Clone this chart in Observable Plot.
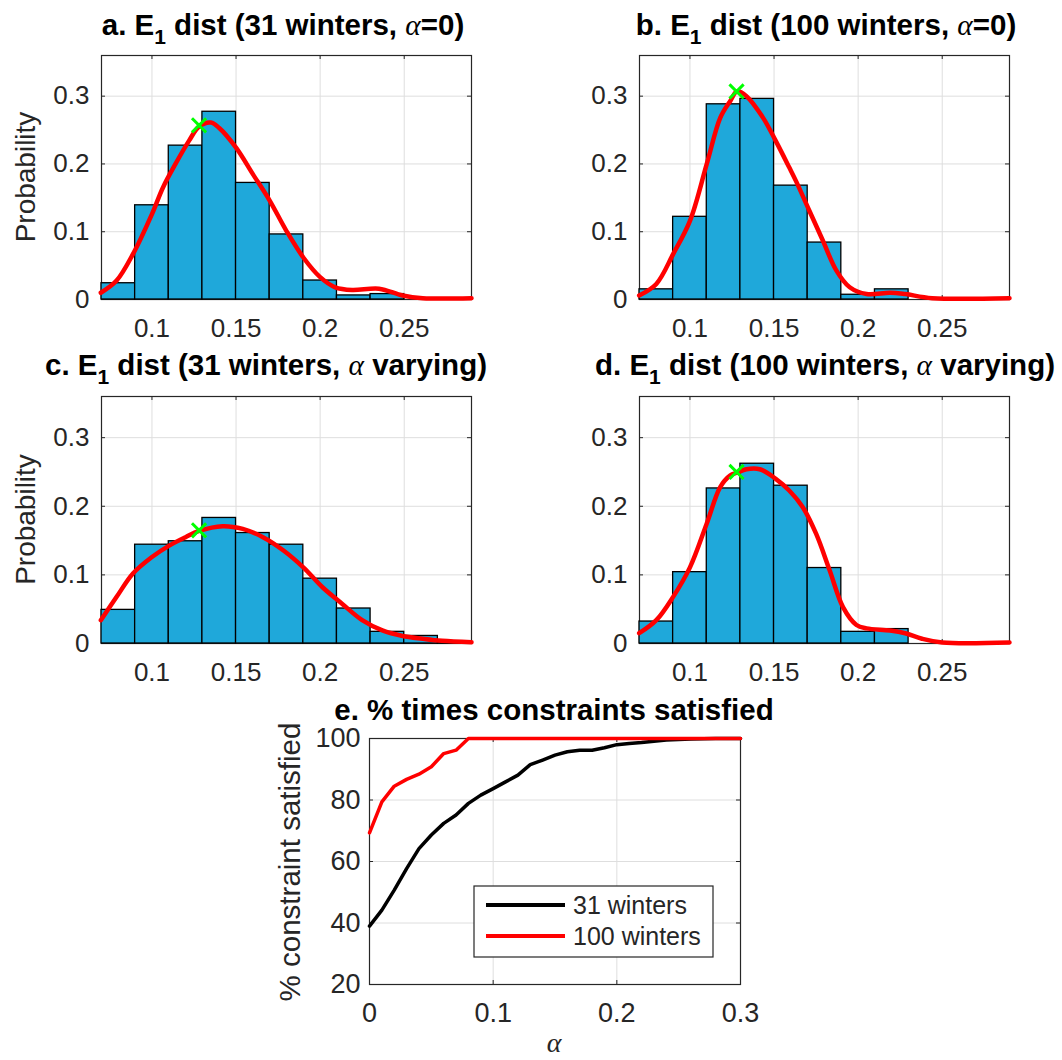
<!DOCTYPE html>
<html>
<head>
<meta charset="utf-8">
<script src="https://cdn.jsdelivr.net/npm/d3@7"></script>
<script src="https://cdn.jsdelivr.net/npm/@observablehq/plot@0.6"></script>
<style>
  body { margin: 0; background: #fff; }
  #root { position: relative; width: 1062px; height: 1060px; background: #fff; overflow: hidden; }
  .panel { position: absolute; }
  #overlay { position: absolute; left: 0; top: 0; pointer-events: none; }
</style>
</head>
<body>
<div id="root"></div>
<script>
// ---------------- DATA ----------------
const binEdges = [0.07, 0.09, 0.11, 0.13, 0.15, 0.17, 0.19, 0.21, 0.23, 0.25, 0.27, 0.29];

const probA = [0.024, 0.139, 0.227, 0.277, 0.172, 0.096, 0.028, 0.006, 0.008, 0, 0];
const probB = [0.015, 0.122, 0.288, 0.296, 0.168, 0.084, 0.007, 0.015, 0, 0, 0];
const probC = [0.049, 0.144, 0.149, 0.183, 0.161, 0.144, 0.0945, 0.051, 0.017, 0.011, 0.002];
const probD = [0.032, 0.104, 0.226, 0.262, 0.230, 0.110, 0.017, 0.021, 0, 0, 0];

const kdeAx = [0.0696, 0.079, 0.0887, 0.1, 0.1065, 0.114, 0.122, 0.128, 0.135, 0.14, 0.15, 0.16, 0.17, 0.18, 0.19, 0.2, 0.209, 0.219, 0.235, 0.249, 0.261, 0.29];
const kdeAy = [0.010, 0.028, 0.067, 0.126, 0.165, 0.200, 0.234, 0.255, 0.261, 0.253, 0.224, 0.185, 0.146, 0.101, 0.062, 0.033, 0.018, 0.014, 0.016, 0.006, 0.002, 0.002];

const kdeBx = [0.0698, 0.08, 0.09, 0.1, 0.11, 0.118, 0.124, 0.128, 0.1336, 0.1435, 0.151, 0.159, 0.163, 0.171, 0.179, 0.187, 0.195, 0.205, 0.219, 0.228, 0.244, 0.29];
const kdeBy = [0.006, 0.023, 0.067, 0.116, 0.200, 0.268, 0.293, 0.307, 0.300, 0.268, 0.234, 0.195, 0.175, 0.131, 0.087, 0.043, 0.018, 0.008, 0.010, 0.008, 0.002, 0.002];

const kdeCx = [0.0696, 0.079, 0.0887, 0.1, 0.1105, 0.12, 0.128, 0.142, 0.154, 0.166, 0.178, 0.19, 0.2014, 0.213, 0.225, 0.237, 0.249, 0.261, 0.2725, 0.29];
const kdeCy = [0.034, 0.068, 0.102, 0.126, 0.143, 0.155, 0.164, 0.171, 0.167, 0.155, 0.136, 0.111, 0.082, 0.058, 0.034, 0.019, 0.011, 0.007, 0.004, 0.002];

const kdeDx = [0.0698, 0.08, 0.09, 0.1, 0.11, 0.118, 0.124, 0.128, 0.1336, 0.1415, 0.151, 0.159, 0.167, 0.175, 0.183, 0.191, 0.199, 0.205, 0.219, 0.228, 0.238, 0.25, 0.29];
const kdeDy = [0.015, 0.034, 0.068, 0.111, 0.175, 0.228, 0.245, 0.249, 0.254, 0.254, 0.240, 0.223, 0.199, 0.160, 0.107, 0.053, 0.027, 0.022, 0.019, 0.015, 0.007, 0.0015, 0.0015];

const peakA = [0.128, 0.257];
const peakB = [0.1277, 0.307];
const peakC = [0.128, 0.165];
const peakD = [0.1277, 0.250];

const histXTicks = [0.1, 0.15, 0.2, 0.25];
const histXLabels = ["0.1", "0.15", "0.2", "0.25"];
const histYTicks = [0, 0.1, 0.2, 0.3];
const histYLabels = ["0", "0.1", "0.2", "0.3"];

const alphaVals = [0, 0.01, 0.02, 0.03, 0.04, 0.05, 0.06, 0.07, 0.08, 0.09, 0.1, 0.11, 0.12, 0.13, 0.14, 0.15, 0.16, 0.17, 0.18, 0.19, 0.2, 0.21, 0.22, 0.23, 0.24, 0.25, 0.26, 0.27, 0.28, 0.29, 0.3];
const pct31 = [39, 44.2, 50.7, 57.7, 64.2, 68.6, 72.4, 75.1, 78.9, 81.6, 83.7, 85.9, 88.1, 91.5, 93, 94.6, 95.7, 96.2, 96.2, 97, 98, 98.4, 98.7, 99.1, 99.5, 99.7, 99.8, 99.9, 100, 100, 100];
const pct100 = [69.3, 79.4, 84.5, 86.7, 88.4, 90.8, 95.1, 96.2, 100, 100, 100, 100, 100, 100, 100, 100, 100, 100, 100, 100, 100, 100, 100, 100, 100, 100, 100, 100, 100, 100, 100];
const seriesNames = ["31 winters", "100 winters"];
const seriesColors = ["#000000", "#ff0000"];

const eXTicks = [0, 0.1, 0.2, 0.3];
const eXLabels = ["0", "0.1", "0.2", "0.3"];
const eYTicks = [20, 40, 60, 80, 100];
const eYLabels = ["20", "40", "60", "80", "100"];

// ---------------- STYLE ----------------
const FONT = '"Liberation Sans", Arial, Helvetica, sans-serif';
const AXIS = "#262626";
const GRID = "#dedede";
const BAR = "#1fa8da";
const TICKLEN = 4;

const root = document.getElementById("root");

function place(svg, left, top) {
  const wrap = document.createElement("div");
  wrap.className = "panel";
  wrap.style.left = left + "px";
  wrap.style.top = top + "px";
  wrap.appendChild(svg);
  root.appendChild(wrap);
}

function frameTicks(xt, yt, fw, fh) {
  return [
    Plot.tickX(xt, {x: d => d, insetTop: fh - TICKLEN, stroke: AXIS, strokeWidth: 1}),
    Plot.tickX(xt, {x: d => d, insetBottom: fh - TICKLEN, stroke: AXIS, strokeWidth: 1}),
    Plot.tickY(yt, {y: d => d, insetRight: fw - TICKLEN, stroke: AXIS, strokeWidth: 1}),
    Plot.tickY(yt, {y: d => d, insetLeft: fw - TICKLEN, stroke: AXIS, strokeWidth: 1})
  ];
}

function histPanel({probs, kx, ky, peak, left, top, width, height, ml, mr, mt, mb}) {
  const bars = probs.map((p, i) => ({x1: binEdges[i], x2: binEdges[i + 1], p})).filter(d => d.p > 0);
  const curve = kx.map((x, i) => ({x, y: ky[i]}));
  const fw = width - ml - mr, fh = height - mt - mb;
  const svg = Plot.plot({
    width, height, marginLeft: ml, marginRight: mr, marginTop: mt, marginBottom: mb,
    style: {fontFamily: FONT, fontSize: "26px", color: AXIS, background: "transparent", overflow: "visible"},
    x: {domain: [0.07, 0.29]},
    y: {domain: [0, 0.36]},
    marks: [
      Plot.gridX(histXTicks, {stroke: GRID, strokeOpacity: 1, strokeWidth: 1}),
      Plot.gridY(histYTicks.slice(1), {stroke: GRID, strokeOpacity: 1, strokeWidth: 1}),
      Plot.frame({stroke: AXIS, strokeWidth: 1.2}),
      ...frameTicks(histXTicks, histYTicks, fw, fh),
      Plot.rect(bars, {x1: "x1", x2: "x2", y1: 0, y2: "p", fill: BAR, stroke: "#000", strokeWidth: 1.3}),
      Plot.line(curve, {x: "x", y: "y", stroke: "#ff0000", strokeWidth: 4.5, curve: "catmull-rom"}),
      Plot.dot([peak], {x: d => d[0], y: d => d[1], symbol: "times", r: 6.5, stroke: "#00ff00", strokeWidth: 3}),
      Plot.axisX(histXTicks, {tickSize: 0, tickPadding: 19, tickFormat: d => histXLabels[histXTicks.indexOf(d)], label: null, fontSize: 26, fill: AXIS}),
      Plot.axisY(histYTicks, {tickSize: 0, tickPadding: 12, tickFormat: d => histYLabels[histYTicks.indexOf(d)], label: null, fontSize: 26, fill: AXIS})
    ]
  });
  place(svg, left, top);
}

// panels a-d
histPanel({probs: probA, kx: kdeAx, ky: kdeAy, peak: peakA, left: 0,   top: 50,  width: 531, height: 300, ml: 101, mr: 60, mt: 5, mb: 51});
histPanel({probs: probB, kx: kdeBx, ky: kdeBy, peak: peakB, left: 531, top: 50,  width: 531, height: 300, ml: 108, mr: 53, mt: 5, mb: 51});
histPanel({probs: probC, kx: kdeCx, ky: kdeCy, peak: peakC, left: 0,   top: 390, width: 531, height: 300, ml: 101, mr: 60, mt: 6, mb: 47});
histPanel({probs: probD, kx: kdeDx, ky: kdeDy, peak: peakD, left: 531, top: 390, width: 531, height: 300, ml: 108, mr: 53, mt: 6, mb: 47});

// panel e
{
  const width = 540, height = 340, ml = 109, mr = 60, mt = 18, mb = 76;
  const fw = width - ml - mr, fh = height - mt - mb;
  const rows = [];
  alphaVals.forEach((a, i) => {
    rows.push({a, v: pct31[i], s: seriesNames[0]});
  });
  alphaVals.forEach((a, i) => {
    rows.push({a, v: pct100[i], s: seriesNames[1]});
  });
  const svg = Plot.plot({
    width, height, marginLeft: ml, marginRight: mr, marginTop: mt, marginBottom: mb,
    style: {fontFamily: FONT, fontSize: "27px", color: AXIS, background: "transparent", overflow: "visible"},
    x: {domain: [0, 0.3]},
    y: {domain: [20, 100]},
    color: {domain: seriesNames, range: seriesColors},
    marks: [
      Plot.gridX(eXTicks.slice(1, 3), {stroke: GRID, strokeOpacity: 1}),
      Plot.gridY(eYTicks.slice(1, 4), {stroke: GRID, strokeOpacity: 1}),
      Plot.frame({stroke: AXIS, strokeWidth: 1.2}),
      ...frameTicks(eXTicks, eYTicks, fw, fh),
      Plot.line(rows, {x: "a", y: "v", z: "s", stroke: "s", strokeWidth: 3.5}),
      Plot.axisX(eXTicks, {tickSize: 0, tickPadding: 18, tickFormat: d => eXLabels[eXTicks.indexOf(d)], label: null, fontSize: 27, fill: AXIS}),
      Plot.axisY(eYTicks, {tickSize: 0, tickPadding: 9, tickFormat: d => eYLabels[eYTicks.indexOf(d)], label: null, fontSize: 27, fill: AXIS})
    ]
  });
  place(svg, 260, 720);
}

// ---------------- TEXT OVERLAY (titles, axis labels, legend) ----------------
const ov = d3.select(root).append("svg").attr("id", "overlay")
  .attr("width", 1062).attr("height", 1060)
  .style("font-family", FONT);

const TITLE_SIZE = 29.5;
const titles = [
  {pre: "a. E", sub: "1", mid: " dist (31 winters, ", greek: "α", post: "=0)", x: 283, y: 35},
  {pre: "b. E", sub: "1", mid: " dist (100 winters, ", greek: "α", post: "=0)", x: 826, y: 35},
  {pre: "c. E", sub: "1", mid: " dist (31 winters, ", greek: "α", post: " varying)", x: 266, y: 375},
  {pre: "d. E", sub: "1", mid: " dist (100 winters, ", greek: "α", post: " varying)", x: 825, y: 375}
];
titles.forEach(t => {
  const tx = ov.append("text").attr("x", t.x).attr("y", t.y).attr("text-anchor", "middle")
    .attr("font-weight", "bold").attr("font-size", TITLE_SIZE).attr("fill", "#000");
  tx.append("tspan").text(t.pre);
  tx.append("tspan").attr("dy", 9).attr("font-size", 21).text(t.sub);
  tx.append("tspan").attr("dy", -9).text(t.mid);
  tx.append("tspan").attr("font-family", '"Liberation Serif", "DejaVu Serif", serif')
    .attr("font-style", "italic").attr("font-weight", "normal").text(t.greek);
  tx.append("tspan").text(t.post);
});
ov.append("text").attr("x", 554).attr("y", 720).attr("text-anchor", "middle")
  .attr("font-weight", "bold").attr("font-size", 29.5).attr("fill", "#000")
  .text("e. % times constraints satisfied");

// y labels
[[25, 177], [25, 519.5]].forEach(([x, y]) => {
  ov.append("text").attr("transform", `translate(${x},${y}) rotate(-90)`)
    .attr("text-anchor", "middle").attr("dy", "0.35em").attr("font-size", 28).attr("fill", AXIS)
    .text("Probability");
});
ov.append("text").attr("transform", "translate(290,862) rotate(-90)")
  .attr("text-anchor", "middle").attr("dy", "0.35em").attr("font-size", 29.5).attr("fill", AXIS)
  .text("% constraint satisfied");
ov.append("text").attr("x", 554).attr("y", 1052).attr("text-anchor", "middle")
  .attr("font-family", '"Liberation Serif", "DejaVu Serif", serif').attr("font-style", "italic")
  .attr("font-size", 28).attr("fill", AXIS).text("α");

// legend
const lg = ov.append("g");
lg.append("rect").attr("x", 474).attr("y", 886).attr("width", 239).attr("height", 71)
  .attr("fill", "#fff").attr("stroke", AXIS).attr("stroke-width", 1.2);
seriesNames.forEach((name, i) => {
  const y = 905 + i * 31;
  lg.append("line").attr("x1", 486).attr("x2", 565).attr("y1", y).attr("y2", y)
    .attr("stroke", seriesColors[i]).attr("stroke-width", 4);
  lg.append("text").attr("x", 573).attr("y", y).attr("dy", "0.35em")
    .attr("font-size", 25).attr("fill", AXIS).text(name);
});
</script>
</body>
</html>
